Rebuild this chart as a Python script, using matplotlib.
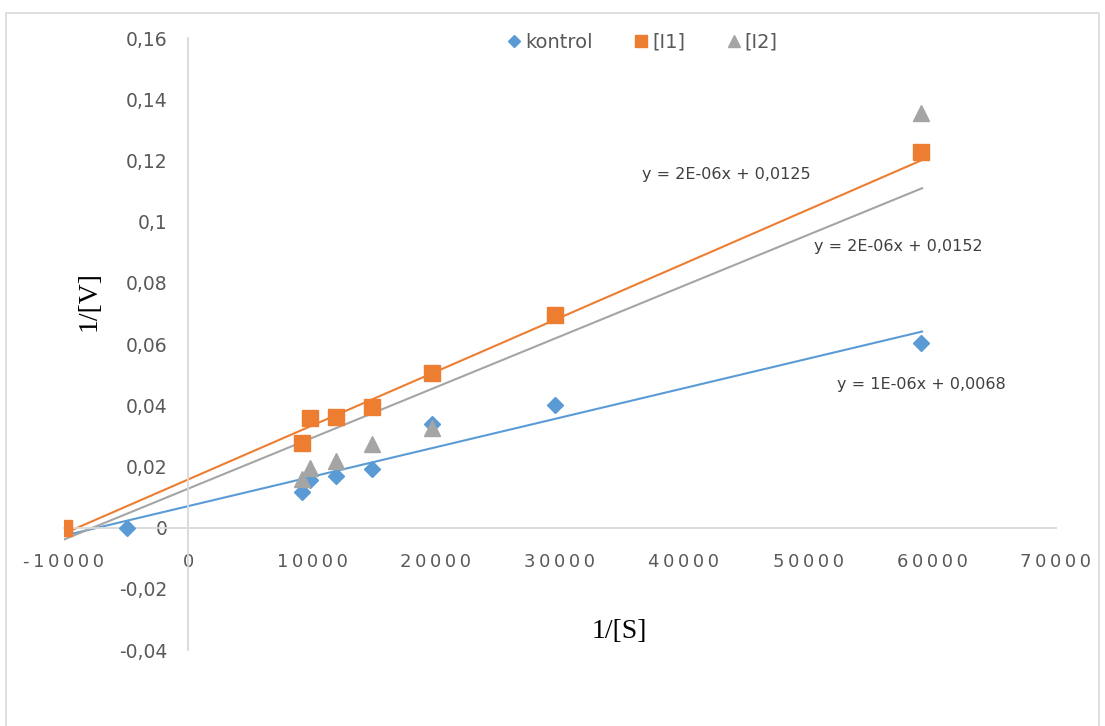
import matplotlib
matplotlib.use('Agg')
import matplotlib.pyplot as plt
from matplotlib.patches import Rectangle
import numpy as np

# data
kontrol_x = [-4900, 9200, 9800, 11900, 14800, 19700, 29600, 59100]
kontrol_y = [0.0, 0.0115, 0.0157, 0.0170, 0.0193, 0.0338, 0.0402, 0.0602]
i1_x = [-10000, 9200, 9800, 11900, 14800, 19700, 29600, 59100]
i1_y = [0.0, 0.0278, 0.0357, 0.0363, 0.0393, 0.0504, 0.0694, 0.1227]
i2_x = [9200, 9800, 11900, 14800, 19700, 59100]
i2_y = [0.0160, 0.0196, 0.0219, 0.0272, 0.0327, 0.1355]

# trendlines as drawn (slope, intercept) and their labels
trend_slope = [9.64e-7, 1.764e-6, 1.659e-6]
trend_icpt = [0.0070, 0.0157, 0.0127]
trend_range = [-10000, 59200]
eq_labels = ['y = 1E-06x + 0,0068', 'y = 2E-06x + 0,0125', 'y = 2E-06x + 0,0152']
eq_pos = [(921, 385), (726, 174), (898, 246)]  # pixel centres

xticks = [-10000, 0, 10000, 20000, 30000, 40000, 50000, 60000, 70000]
yticks = [-0.04, -0.02, 0, 0.02, 0.04, 0.06, 0.08, 0.1, 0.12, 0.14, 0.16]

blue = '#5B9BD5'
orange = '#ED7D31'
gray = '#A5A5A5'
txt = '#595959'
W, H = 1105, 726

fig = plt.figure(figsize=(W / 100, H / 100), dpi=100)
fig.patches.append(Rectangle((6 / W, -0.05), 1093 / W, 1.05 - 13 / H, transform=fig.transFigure,
                             fill=False, edgecolor='#D9D9D9', linewidth=1.2))
ax = fig.add_axes([64 / W, 1 - 650 / H, (1056 - 64) / W, (650 - 38) / H])
ax.set_xlim(-10000, 70000)
ax.set_ylim(-0.04, 0.16)

for s in ['top', 'right']:
    ax.spines[s].set_visible(False)
ax.spines['left'].set_position(('data', 0))
ax.spines['bottom'].set_position(('data', 0))
for s in ['left', 'bottom']:
    ax.spines[s].set_color('#D9D9D9')
    ax.spines[s].set_linewidth(1.3)
ax.tick_params(length=0)

ax.set_xticks(xticks)
ax.set_xticklabels(['\u2009'.join(str(v)) for v in xticks], color=txt, fontsize=13)
ax.set_yticks(yticks)
ax.set_yticklabels([('%g' % v).replace('.', ',') for v in yticks], color=txt, fontsize=13.5)
ax.tick_params(axis='x', pad=18)
ax.tick_params(axis='y', pad=15)

# trendlines
tx = np.array(trend_range)
for sl, ic, c in zip(trend_slope, trend_icpt, [blue, orange, gray]):
    ax.plot(tx, sl * tx + ic, color=c, linewidth=1.5, zorder=2)

ax.plot(kontrol_x, kontrol_y, 'D', color=blue, markersize=8, label='kontrol', zorder=3)
ax.plot(i1_x, i1_y, 's', color=orange, markersize=11, label='[I1]', zorder=4)
ax.plot(i2_x, i2_y, '^', color=gray, markersize=11, label='[I2]', zorder=5)

for lab, (px, py) in zip(eq_labels, eq_pos):
    fig.text(px / W, 1 - py / H, lab, ha='center', va='center', fontsize=11.5, color='#404040')

fig.text(619 / W, 1 - 632 / H, '1/[S]', ha='center', va='center', fontsize=20,
         family='Liberation Serif', color='black')
fig.text(89 / W, 1 - 301 / H, '1/[V]', ha='center', va='center', fontsize=20, rotation=90,
         family='Liberation Serif', color='black')

leg = ax.legend(loc='center', bbox_to_anchor=(641 / W, 1 - 42 / H), bbox_transform=fig.transFigure,
                ncol=3, frameon=False, fontsize=14, handletextpad=0.05, columnspacing=2.0,
                markerscale=0.75, handlelength=1.0)
for t in leg.get_texts():
    t.set_color(txt)

fig.savefig('out.png', dpi=100)
